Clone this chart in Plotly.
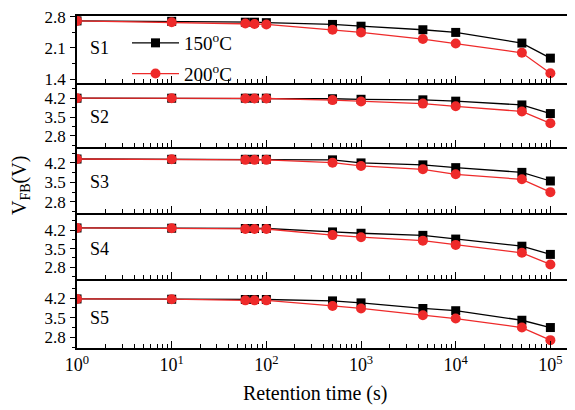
import plotly.graph_objects as go

# ---- data ----
time_s = [1, 10, 60, 75, 100, 500, 1000, 4500, 10000, 50000, 100000]
panels = ["S1", "S2", "S3", "S4", "S5"]
v150 = {
    "S1": [2.71, 2.70, 2.68, 2.68, 2.67, 2.63, 2.59, 2.51, 2.45, 2.21, 1.87],
    "S2": [4.20, 4.20, 4.20, 4.20, 4.20, 4.18, 4.16, 4.14, 4.09, 3.95, 3.63],
    "S3": [4.34, 4.33, 4.33, 4.33, 4.33, 4.31, 4.20, 4.13, 4.03, 3.86, 3.55],
    "S4": [4.28, 4.27, 4.26, 4.26, 4.26, 4.13, 4.08, 4.00, 3.86, 3.59, 3.28],
    "S5": [4.17, 4.16, 4.15, 4.15, 4.15, 4.10, 4.03, 3.83, 3.75, 3.41, 3.15],
}
v200 = {
    "S1": [2.71, 2.68, 2.65, 2.64, 2.63, 2.51, 2.45, 2.30, 2.20, 1.99, 1.53],
    "S2": [4.20, 4.20, 4.19, 4.19, 4.19, 4.13, 4.08, 4.00, 3.90, 3.71, 3.27],
    "S3": [4.34, 4.33, 4.31, 4.31, 4.31, 4.21, 4.09, 3.97, 3.79, 3.61, 3.15],
    "S4": [4.28, 4.27, 4.24, 4.24, 4.24, 4.01, 3.93, 3.80, 3.64, 3.34, 2.90],
    "S5": [4.17, 4.16, 4.12, 4.12, 4.12, 3.92, 3.83, 3.59, 3.47, 3.15, 2.70],
}
y_ticks = {
    "S1": [1.4, 2.1, 2.8],
    "S2": [2.8, 3.5, 4.2],
    "S3": [2.8, 3.5, 4.2],
    "S4": [2.8, 3.5, 4.2],
    "S5": [2.8, 3.5, 4.2],
}
x_tickvals = [1, 10, 100, 1000, 10000, 100000]
x_ticktext = ["10<sup>0</sup>", "10<sup>1</sup>", "10<sup>2</sup>",
              "10<sup>3</sup>", "10<sup>4</sup>", "10<sup>5</sup>"]
series_names = ["150<sup>o</sup>C", "200<sup>o</sup>C"]

# ---- layout geometry (page pixels; the page body has an 8px margin) ----
OFF = 8
W, H = 575 - OFF, 410 - OFF


def px(x):
    return (x - OFF) / W


def py(y):
    return 1 - (y - OFF) / H


y_ranges = {"S1": [1.31, 2.82], "S2": [2.39, 4.69], "S3": [2.40, 4.70],
            "S4": [2.35, 4.77], "S5": [2.42, 4.81]}
pix = {"S1": (16, 83), "S2": (85, 147), "S3": (149, 213), "S4": (215, 279), "S5": (281, 348)}
label_v = {"S1": 2.1, "S2": 3.5, "S3": 3.5, "S4": 3.5, "S5": 3.5}

FONT = "Liberation Serif, Times New Roman, serif"
BLACK = "#000000"
RED = "#EE2A2A"

fig = go.Figure()
for i, p in enumerate(panels):
    n = i + 1
    xa = "x" if n == 1 else f"x{n}"
    ya = "y" if n == 1 else f"y{n}"
    fig.add_trace(go.Scatter(
        x=time_s, y=v150[p], xaxis=xa, yaxis=ya, mode="lines+markers",
        name=series_names[0], showlegend=(n == 1), legendgroup="a",
        line=dict(color=BLACK, width=1.3),
        marker=dict(symbol="square", size=9, color=BLACK)))
for i, p in enumerate(panels):
    n = i + 1
    xa = "x" if n == 1 else f"x{n}"
    ya = "y" if n == 1 else f"y{n}"
    fig.add_trace(go.Scatter(
        x=time_s, y=v200[p], xaxis=xa, yaxis=ya, mode="lines+markers",
        name=series_names[1], showlegend=(n == 1), legendgroup="b",
        line=dict(color=RED, width=1.3),
        marker=dict(symbol="circle", size=10, color=RED)))

layout = dict(
    width=W, height=H, margin=dict(l=0, r=0, t=0, b=0, autoexpand=False),
    paper_bgcolor="white", plot_bgcolor="white",
    font=dict(family=FONT, size=18, color="black"),
    showlegend=True,
    legend=dict(x=px(127), y=py(24), xanchor="left", yanchor="top",
                bgcolor="rgba(0,0,0,0)", itemwidth=47, tracegroupgap=3,
                font=dict(family=FONT, size=19)),
)
annotations = []
for i, p in enumerate(panels):
    n = i + 1
    top, bot = pix[p]
    dom = [py(bot), py(top)]
    xkey = "xaxis" if n == 1 else f"xaxis{n}"
    ykey = "yaxis" if n == 1 else f"yaxis{n}"
    xa = "x" if n == 1 else f"x{n}"
    ya = "y" if n == 1 else f"y{n}"
    layout[xkey] = dict(
        type="log", range=[0, 5.26], domain=[px(77), 1], anchor=ya,
        automargin=False, ticklabeloverflow="allow",
        showline=True, linecolor="black", linewidth=1.5, mirror=True,
        ticks="inside", ticklen=7, tickwidth=1.2, tickcolor="black",
        tickvals=x_tickvals, ticktext=x_ticktext, showticklabels=(n == 5),
        minor=dict(ticks="inside", ticklen=4, tickwidth=1, tickcolor="black", dtick="D1", showgrid=False),
        showgrid=False, zeroline=False,
        tickfont=dict(family=FONT, size=18),
    )
    if n != 5:
        layout[xkey]["matches"] = "x5"
    layout[ykey] = dict(
        range=y_ranges[p], domain=dom, anchor=xa, automargin=False,
        ticklabeloverflow="allow",
        showline=True, linecolor="black", linewidth=1.5,
        ticks="outside", ticklen=5, tickwidth=1.2, tickcolor="black",
        tickvals=y_ticks[p], ticklabelstandoff=1,
        minor=dict(ticks="outside", ticklen=3, tickwidth=1, tickcolor="black", dtick=0.35, tick0=0.0, showgrid=False),
        showgrid=False, zeroline=False,
        tickfont=dict(family=FONT, size=17),
    )
    annotations.append(dict(
        x=px(88), xref="paper", y=label_v[p], yref=ya, text=p,
        showarrow=False, xanchor="left", yanchor="middle",
        font=dict(family=FONT, size=18)))

annotations.append(dict(
    x=px(315), y=py(393), xref="paper", yref="paper",
    text="Retention time (s)", showarrow=False, xanchor="center", yanchor="middle",
    font=dict(family=FONT, size=20)))
annotations.append(dict(
    x=px(20), y=py(186), xref="paper", yref="paper",
    text="V<sub>FB</sub>(V)", showarrow=False, textangle=-90,
    xanchor="center", yanchor="middle", font=dict(family=FONT, size=20)))
layout["annotations"] = annotations
fig.update_layout(**layout)
fig.write_html("out.html")
